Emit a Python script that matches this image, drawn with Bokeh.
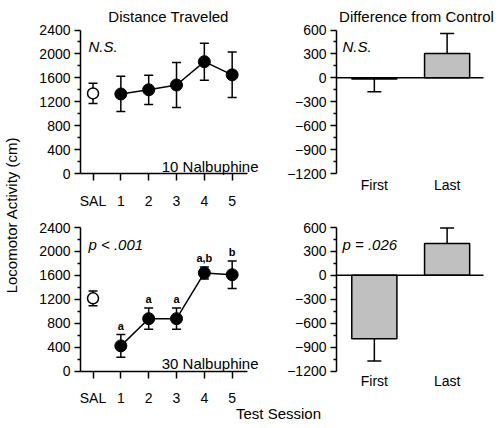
from math import pi
from bokeh.plotting import figure
from bokeh.models import Label, FixedTicker, Range1d, LinearAxis
from bokeh.core.properties import value
from bokeh.embed import file_html
from bokeh.resources import INLINE

# ---------------- data ----------------
sessions = ["SAL", "1", "2", "3", "4", "5"]
session_x = [0, 1, 2, 3, 4, 5]
low_mean = [1340, 1330, 1400, 1480, 1870, 1650]
low_sem = [170, 295, 245, 375, 310, 380]
high_mean = [1215, 420, 875, 875, 1640, 1610]
high_sem = [125, 190, 178, 178, 100, 230]
high_letters = ["", "a", "a", "a", "a,b", "b"]

diff_cats = ["First", "Last"]
diff_x = [1, 2]
low_diff = [-15, 305]
low_diff_sem = [160, 250]
high_diff = [-795, 398]
high_diff_sem = [280, 196]

left_major = [0, 400, 800, 1200, 1600, 2000, 2400]
left_minor = [200, 600, 1000, 1400, 1800, 2200]
right_major = [-1200, -900, -600, -300, 0, 300, 600]
right_minor = [-1050, -750, -450, -150, 150, 450]

# ---------------- style / geometry (canvas pixels) ----------------
W, H = 504, 428
FONT = "Liberation Sans"
BLACK = "#000000"
BAR_GRAY = "#c0c0c0"
TEXT_SIZE = "15px"
TICK_SIZE = "14px"

LEFT_X = (-0.45, 5.55)     # axis extents
LEFT_Y = (0, 2400)
RIGHT_X = (0.48, 2.5)
RIGHT_Y = (-1200, 600)
AXIS_PX_H = 143.5
LEFT_AXIS_PX, RIGHT_AXIS_PX = 80, 336        # x pixel of the y axes
TOP_BASE_PX, BOTTOM_BASE_PX = 173, 370.5     # y pixel of the bottom of the y axes
LEFT_PX_PER_X = 27.83
RIGHT_PX_PER_X = 72.77

# one canvas; default ranges are canvas pixels (y downward)
p = figure(width=W, height=H, x_range=Range1d(0, W), y_range=Range1d(H, 0),
           x_axis_type=None, y_axis_type=None, min_border=0,
           output_backend="svg", toolbar_location=None,
           outline_line_color=None, background_fill_color="white",
           border_fill_color="white")
p.xgrid.visible = False
p.ygrid.visible = False


def x_range_for(anchor_px, anchor_val, ppu):
    return Range1d(anchor_val - anchor_px / ppu, anchor_val + (W - anchor_px) / ppu)


def y_range_for(base_px, base_val, ppu):
    return Range1d(base_val - (H - base_px) / ppu, base_val + base_px / ppu)


left_ppy = AXIS_PX_H / (LEFT_Y[1] - LEFT_Y[0])
right_ppy = AXIS_PX_H / (RIGHT_Y[1] - RIGHT_Y[0])
p.extra_x_ranges = {
    "L": x_range_for(LEFT_AXIS_PX, LEFT_X[0], LEFT_PX_PER_X),
    "R": x_range_for(RIGHT_AXIS_PX, RIGHT_X[0], RIGHT_PX_PER_X),
}
p.extra_y_ranges = {
    "TL": y_range_for(TOP_BASE_PX, LEFT_Y[0], left_ppy),
    "TR": y_range_for(TOP_BASE_PX, RIGHT_Y[0], right_ppy),
    "BL": y_range_for(BOTTOM_BASE_PX, LEFT_Y[0], left_ppy),
    "BR": y_range_for(BOTTOM_BASE_PX, RIGHT_Y[0], right_ppy),
}


def style_axis(ax):
    ax.axis_line_width = 1.5
    ax.axis_line_color = BLACK
    ax.major_tick_line_width = 1.5
    ax.minor_tick_line_width = 1.5
    ax.major_tick_line_color = BLACK
    ax.minor_tick_line_color = BLACK
    ax.major_tick_in = 0
    ax.minor_tick_in = 0
    ax.major_label_text_font = FONT
    ax.major_label_text_font_size = TICK_SIZE
    ax.major_label_text_color = BLACK
    return ax


def label(x, y, text, align="left", italic=False, angle=0, baseline="alphabetic"):
    p.add_layout(Label(x=x, y=y, text=text, angle=angle,
                       text_font=FONT, text_font_size=TEXT_SIZE,
                       text_font_style="italic" if italic else "normal",
                       text_color=BLACK, text_align=align, text_baseline=baseline))


def left_panel(yr, base_px, mean, sem, note, dose, letters=None):
    yax = style_axis(LinearAxis(x_range_name="L", y_range_name=yr,
                                fixed_location=LEFT_X[0], bounds=LEFT_Y,
                                ticker=FixedTicker(ticks=left_major, minor_ticks=left_minor)))
    yax.major_tick_out = 6
    yax.minor_tick_out = 3
    yax.major_label_standoff = 4
    p.add_layout(yax, "left")

    xax = style_axis(LinearAxis(x_range_name="L", y_range_name=yr,
                                fixed_location=LEFT_Y[0], bounds=LEFT_X,
                                ticker=FixedTicker(ticks=session_x, minor_ticks=[])))
    xax.major_label_overrides = {x: s for x, s in zip(session_x, sessions)}
    xax.major_tick_out = 7
    xax.minor_tick_out = 0
    xax.major_label_standoff = 12
    p.add_layout(xax, "below")

    kw = dict(x_range_name="L", y_range_name=yr)
    upper = [m + s for m, s in zip(mean, sem)]
    lower = [m - s for m, s in zip(mean, sem)]
    p.segment(x0=session_x, y0=lower, x1=session_x, y1=upper,
              line_color=BLACK, line_width=1.5, **kw)
    p.scatter(x=session_x + session_x, y=upper + lower, marker="dash", size=9,
              line_color=BLACK, line_width=1.5, **kw)
    p.line(x=session_x[1:], y=mean[1:], line_color=BLACK, line_width=1.5, **kw)
    p.scatter(x=session_x[:1], y=mean[:1], size=11, fill_color="white",
              line_color=BLACK, line_width=1.5, **kw)
    p.scatter(x=session_x[1:], y=mean[1:], size=12, fill_color=BLACK,
              line_color=BLACK, line_width=1, **kw)
    if letters is not None:
        p.text(x=session_x, y=upper, text=letters,
               text_font=value(FONT), text_font_style="bold",
               text_font_size=value("11px"), text_color=BLACK,
               text_align="center", text_baseline="bottom", y_offset=-3, **kw)

    top = base_px - AXIS_PX_H
    label(88, top + 16.5, note, italic=True)
    label(258, base_px - 7.5, dose, align="right")


def right_panel(yr, base_px, vals, sems, note, standoff):
    yax = style_axis(LinearAxis(x_range_name="R", y_range_name=yr,
                                fixed_location=RIGHT_X[0], bounds=RIGHT_Y,
                                ticker=FixedTicker(ticks=right_major, minor_ticks=right_minor)))
    yax.major_tick_out = 6
    yax.minor_tick_out = 3
    yax.major_label_standoff = 4
    p.add_layout(yax, "left")

    xax = style_axis(LinearAxis(x_range_name="R", y_range_name=yr,
                                fixed_location=RIGHT_Y[0], bounds=RIGHT_X,
                                ticker=FixedTicker(ticks=diff_x, minor_ticks=[])))
    xax.major_label_overrides = {x: s for x, s in zip(diff_x, diff_cats)}
    xax.axis_line_color = None
    xax.major_tick_line_color = None
    xax.major_tick_out = 0
    xax.minor_tick_out = 0
    xax.major_label_standoff = standoff
    p.add_layout(xax, "below")

    kw = dict(x_range_name="R", y_range_name=yr)
    p.vbar(x=diff_x, top=vals, bottom=0, width=0.62, fill_color=BAR_GRAY,
           line_color=BLACK, line_width=1.5, **kw)
    ends = [v + (s if v >= 0 else -s) for v, s in zip(vals, sems)]
    p.segment(x0=diff_x, y0=vals, x1=diff_x, y1=ends, line_color=BLACK,
              line_width=1.5, **kw)
    p.scatter(x=diff_x, y=ends, marker="dash", size=14, line_color=BLACK,
              line_width=1.5, **kw)
    # zero reference line across the axis extent
    p.segment(x0=[RIGHT_X[0]], y0=[0], x1=[RIGHT_X[1]], y1=[0],
              line_color=BLACK, line_width=1.5, **kw)

    top = base_px - AXIS_PX_H
    label(342, top + 16.5, note, italic=True)


left_panel("TL", TOP_BASE_PX, low_mean, low_sem, "N.S.", "10 Nalbuphine")
right_panel("TR", TOP_BASE_PX, low_diff, low_diff_sem, "N.S.", 3)
left_panel("BL", BOTTOM_BASE_PX, high_mean, high_sem, "p < .001", "30 Nalbuphine",
           letters=high_letters)
right_panel("BR", BOTTOM_BASE_PX, high_diff, high_diff_sem, "p = .026", 2)

label(168, 16, "Distance Traveled", align="center")
label(416, 16, "Difference from Control", align="center")
label(11, 214.5, "Locomotor Activity (cm)", align="center", angle=pi / 2, baseline="middle")
label(278, 413, "Test Session", align="center")

with open("out.html", "w") as f:
    f.write(file_html(p, INLINE))
